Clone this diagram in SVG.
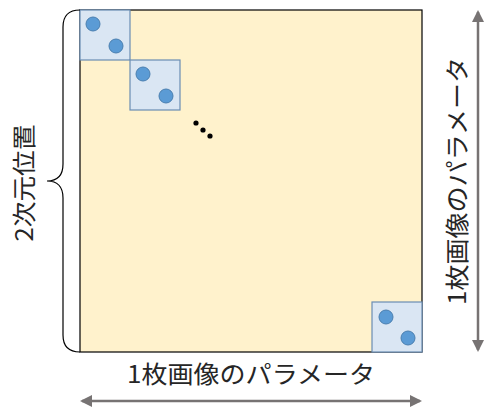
<svg xmlns="http://www.w3.org/2000/svg" width="485" height="412" viewBox="0 0 485 412">
<style>
.lbl{font-family:"Noto Sans CJK JP","Noto Sans",sans-serif;font-size:24px;fill:#262626}
.blk{fill:#dae6f3;stroke:#6a8db3;stroke-width:1.2}
.dot{fill:#5b9bd5;stroke:#4a7fb0;stroke-width:1}
.arr{stroke:#777373;stroke-width:2.5;fill:none}
</style>
<defs>
<marker id="ah" viewBox="0 0 12 12" refX="10" refY="6" markerWidth="12" markerHeight="12" markerUnits="userSpaceOnUse" orient="auto-start-reverse">
<path d="M0,0 L12,6 L0,12 z" fill="#777373"/>
</marker>
</defs>
<g id="matrix">
<rect x="80" y="10" width="342" height="342" fill="#fff2cc" stroke="#000" stroke-width="1.2"/>
</g>
<g id="block1">
<rect class="blk" x="80" y="10" width="50" height="50"/>
<circle class="dot" cx="93" cy="24" r="7"/>
<circle class="dot" cx="116" cy="46" r="7"/>
</g>
<g id="block2">
<rect class="blk" x="130" y="60" width="50" height="50"/>
<circle class="dot" cx="143" cy="74" r="7"/>
<circle class="dot" cx="166" cy="96" r="7"/>
</g>
<g id="block3">
<rect class="blk" x="372" y="302" width="50" height="50"/>
<circle class="dot" cx="386" cy="317" r="7"/>
<circle class="dot" cx="408" cy="338" r="7"/>
</g>
<g id="ellipsis">
<circle cx="196" cy="123" r="2.6" fill="#000"/>
<circle cx="203" cy="130" r="2.6" fill="#000"/>
<circle cx="210" cy="136" r="2.6" fill="#000"/>
</g>
<g id="connectors">
<path d="M80,10 Q63,10 63,27 L63,164 Q63,181 47,181 Q63,181 63,198 L63,335 Q63,352 80,352" fill="none" stroke="#000" stroke-width="1.2"/>
<line class="arr" x1="82" y1="401" x2="420" y2="401" marker-start="url(#ah)" marker-end="url(#ah)"/>
<line class="arr" x1="478" y1="12" x2="478" y2="350" marker-start="url(#ah)" marker-end="url(#ah)"/>
</g>
<g id="labels">
<text class="lbl" transform="translate(33,183) rotate(-90)" text-anchor="middle" textLength="117" lengthAdjust="spacingAndGlyphs">2次元位置</text>
<text class="lbl" x="251" y="383" text-anchor="middle" textLength="248" lengthAdjust="spacingAndGlyphs">1枚画像のパラメータ</text>
<text class="lbl" transform="translate(466,181) rotate(-90)" text-anchor="middle" textLength="248" lengthAdjust="spacingAndGlyphs">1枚画像のパラメータ</text>
</g>
</svg>
